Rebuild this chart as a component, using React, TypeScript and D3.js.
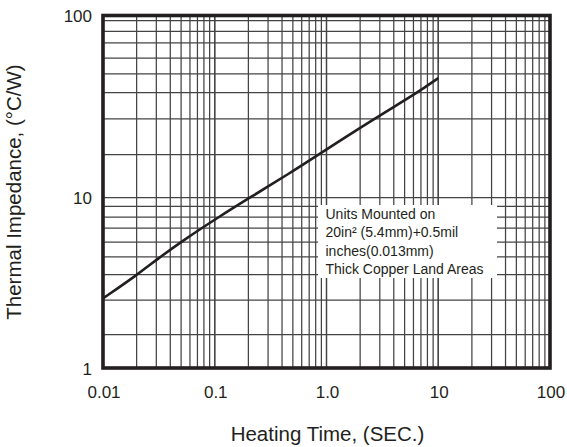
import React from "react";
import * as d3 from "d3";

// ---- data ----
const heatingTime = [0.01, 0.02, 0.031, 0.052, 0.108, 0.207, 0.47, 0.87, 2.7, 6.4, 10];
const thermalImpedance = [2.56, 3.5, 4.38, 5.6, 7.67, 10.0, 13.6, 17.4, 27.2, 37.4, 45.3];

const xTickValues = [0.01, 0.1, 1, 10, 100];
const xTickLabels = ["0.01", "0.1", "1.0", "10", "100"];
const yTickValues = [1, 10, 100];
const yTickLabels = ["1", "10", "100"];

// horizontal grid lines as drawn in the (hand-ruled) original
const yGridValues = [93.8, 81.9, 70.7, 58.4, 47.8, 37.7, 27.0, 17.2, 10, 8.86, 7.67, 6.61, 5.48, 4.48, 3.53, 2.5, 1.57];

const noteLines = [
  "Units Mounted on",
  "20in\u00B2 (5.4mm)+0.5mil",
  "inches(0.013mm)",
  "Thick Copper Land Areas",
];

const xTitle = "Heating Time, (SEC.)";
const yTitle = "Thermal Impedance, (\u00B0C/W)";

// ---- layout ----
const W = 567;
const H = 447;
const L = 103;
const R = 550;
const T = 15.5;
const B = 368;
const INK = "#231f20";
const FONT = "'Liberation Sans', Arial, Helvetica, sans-serif";

export default function App() {
  const x = d3.scaleLog().domain([0.01, 100]).range([L, R]);
  const y = d3.scaleLog().domain([1, 10, 100]).range([B, 197.5, T]);

  const xGrid: number[] = [];
  for (let dec = 0.01; dec < 100; dec *= 10) {
    for (let k = 1; k <= 10; k++) xGrid.push(+(dec * k).toPrecision(3));
  }

  const line = d3
    .line<number>()
    .x((_, i) => x(heatingTime[i]))
    .y((d) => y(d))
    .curve(d3.curveBasis);

  const pathD = line(thermalImpedance) || "";

  const boxX = 318;
  const boxY = 205;
  const boxW = 179;
  const boxH = 73;

  return (
    <svg
      width={W}
      height={H}
      viewBox={`0 0 ${W} ${H}`}
      style={{ position: "absolute", left: 0, top: 0, background: "#fff" }}
      fontFamily={FONT}
    >
      <rect x={0} y={0} width={W} height={H} fill="#fff" />
      {/* grid */}
      <g stroke="#444" strokeWidth={1.25}>
        {xGrid.map((v, i) => (
          <line key={"gx" + i} x1={x(v)} x2={x(v)} y1={T} y2={B} />
        ))}
        {yGridValues.map((v, i) => (
          <line key={"gy" + i} x1={L} x2={R} y1={y(v)} y2={y(v)} />
        ))}
      </g>
      {/* note box */}
      <rect x={boxX} y={boxY} width={boxW} height={boxH} fill="#fff" />
      <g fill={INK} fontSize={14}>
        {noteLines.map((t, i) => (
          <text key={"n" + i} x={boxX + 7.5} y={boxY + 13.5 + i * 18.6}>
            {t}
          </text>
        ))}
      </g>
      {/* curve */}
      <path d={pathD} fill="none" stroke={INK} strokeWidth={2.6} />
      {/* frame */}
      <rect x={L} y={T} width={R - L} height={B - T} fill="none" stroke={INK} strokeWidth={3.6} />
      {/* y ticks */}
      <g fill={INK} fontSize={17} textAnchor="end">
        {yTickValues.map((v, i) => (
          <text key={"yt" + i} x={92} y={y(v) + 6.5}>
            {yTickLabels[i]}
          </text>
        ))}
      </g>
      {/* x ticks */}
      <g fill={INK} fontSize={17} textAnchor="middle">
        {xTickValues.map((v, i) => (
          <text key={"xt" + i} x={x(v) + 1} y={398}>
            {xTickLabels[i]}
          </text>
        ))}
      </g>
      {/* titles */}
      <text x={(L + R) / 2 + 1} y={441} fill={INK} fontSize={20.5} textAnchor="middle">
        {xTitle}
      </text>
      <text
        transform={`translate(21, 192) rotate(-90)`}
        fill={INK}
        fontSize={20.5}
        textAnchor="middle"
      >
        {yTitle}
      </text>
    </svg>
  );
}
